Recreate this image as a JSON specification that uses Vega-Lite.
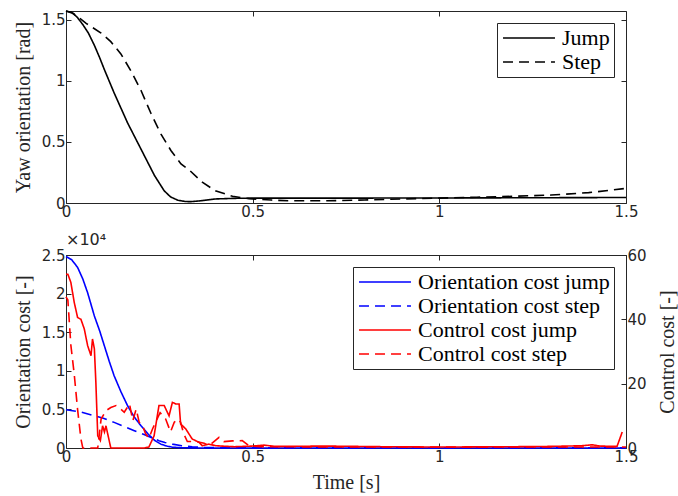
{
  "$schema": "https://vega.github.io/schema/vega-lite/v6.json",
  "padding": {"left": 12, "top": 7, "right": 2, "bottom": 5},
  "autosize": {"type": "pad"},
  "spacing": 52,
  "bounds": "flush",
  "resolve": {"scale": {"strokeDash": "independent", "color": "independent"}, "legend": {"strokeDash": "independent", "color": "independent"}},
  "config": {
    "view": {"stroke": "#262626", "strokeWidth": 1},
    "axis": {"grid": false, "domain": false, "tickSize": -5, "tickColor": "#262626", "labelFont": "DejaVu Sans", "labelFontSize": 15, "labelColor": "#262626", "labelFlush": false, "labelOverlap": false, "titleFont": "Liberation Serif, serif", "titleFontSize": 20, "titleFontWeight": "normal", "titleColor": "#262626", "labelPadding": 6, "titlePadding": 8},
    "legend": {"orient": "top-right", "offset": 12, "title": null, "symbolType": "M-3,0H3", "symbolSize": 300, "symbolOffset": 17, "symbolStrokeWidth": 1.6, "labelFont": "Liberation Serif, serif", "labelFontSize": 22, "labelColor": "black", "labelLimit": 400, "labelOffset": 22, "strokeColor": "#262626", "fillColor": "white", "padding": 4, "rowPadding": 2}
  },
  "datasets": {
    "yaw": [
      {"t": 0, "yaw": 1.571, "series": "Jump"},
      {"t": 0.015, "yaw": 1.56, "series": "Jump"},
      {"t": 0.03, "yaw": 1.52, "series": "Jump"},
      {"t": 0.045, "yaw": 1.46, "series": "Jump"},
      {"t": 0.06, "yaw": 1.39, "series": "Jump"},
      {"t": 0.076, "yaw": 1.29, "series": "Jump"},
      {"t": 0.09, "yaw": 1.19, "series": "Jump"},
      {"t": 0.103, "yaw": 1.09, "series": "Jump"},
      {"t": 0.129, "yaw": 0.9, "series": "Jump"},
      {"t": 0.165, "yaw": 0.655, "series": "Jump"},
      {"t": 0.201, "yaw": 0.44, "series": "Jump"},
      {"t": 0.237, "yaw": 0.225, "series": "Jump"},
      {"t": 0.263, "yaw": 0.1, "series": "Jump"},
      {"t": 0.28, "yaw": 0.05, "series": "Jump"},
      {"t": 0.3, "yaw": 0.022, "series": "Jump"},
      {"t": 0.32, "yaw": 0.012, "series": "Jump"},
      {"t": 0.335, "yaw": 0.011, "series": "Jump"},
      {"t": 0.36, "yaw": 0.018, "series": "Jump"},
      {"t": 0.4, "yaw": 0.033, "series": "Jump"},
      {"t": 0.45, "yaw": 0.038, "series": "Jump"},
      {"t": 0.5, "yaw": 0.04, "series": "Jump"},
      {"t": 0.75, "yaw": 0.04, "series": "Jump"},
      {"t": 1.0, "yaw": 0.041, "series": "Jump"},
      {"t": 1.25, "yaw": 0.043, "series": "Jump"},
      {"t": 1.5, "yaw": 0.045, "series": "Jump"},
      {"t": 0, "yaw": 1.571, "series": "Step"},
      {"t": 0.02, "yaw": 1.55, "series": "Step"},
      {"t": 0.054, "yaw": 1.47, "series": "Step"},
      {"t": 0.094, "yaw": 1.39, "series": "Step"},
      {"t": 0.12, "yaw": 1.32, "series": "Step"},
      {"t": 0.147, "yaw": 1.22, "series": "Step"},
      {"t": 0.174, "yaw": 1.08, "series": "Step"},
      {"t": 0.201, "yaw": 0.92, "series": "Step"},
      {"t": 0.228, "yaw": 0.73, "series": "Step"},
      {"t": 0.254, "yaw": 0.565, "series": "Step"},
      {"t": 0.281, "yaw": 0.43, "series": "Step"},
      {"t": 0.308, "yaw": 0.32, "series": "Step"},
      {"t": 0.33, "yaw": 0.27, "series": "Step"},
      {"t": 0.365, "yaw": 0.17, "series": "Step"},
      {"t": 0.4, "yaw": 0.1, "series": "Step"},
      {"t": 0.446, "yaw": 0.055, "series": "Step"},
      {"t": 0.49, "yaw": 0.035, "series": "Step"},
      {"t": 0.55, "yaw": 0.024, "series": "Step"},
      {"t": 0.6, "yaw": 0.018, "series": "Step"},
      {"t": 0.7, "yaw": 0.018, "series": "Step"},
      {"t": 0.8, "yaw": 0.025, "series": "Step"},
      {"t": 0.9, "yaw": 0.033, "series": "Step"},
      {"t": 1.0, "yaw": 0.04, "series": "Step"},
      {"t": 1.1, "yaw": 0.047, "series": "Step"},
      {"t": 1.2, "yaw": 0.055, "series": "Step"},
      {"t": 1.3, "yaw": 0.065, "series": "Step"},
      {"t": 1.4, "yaw": 0.085, "series": "Step"},
      {"t": 1.46, "yaw": 0.105, "series": "Step"},
      {"t": 1.5, "yaw": 0.12, "series": "Step"}
    ],
    "orient": [
      {"t": 0, "value": 24800, "series": "Orientation cost jump"},
      {"t": 0.015, "value": 24400, "series": "Orientation cost jump"},
      {"t": 0.031, "value": 23400, "series": "Orientation cost jump"},
      {"t": 0.045, "value": 21900, "series": "Orientation cost jump"},
      {"t": 0.058, "value": 20100, "series": "Orientation cost jump"},
      {"t": 0.076, "value": 17100, "series": "Orientation cost jump"},
      {"t": 0.09, "value": 15200, "series": "Orientation cost jump"},
      {"t": 0.103, "value": 13200, "series": "Orientation cost jump"},
      {"t": 0.116, "value": 11200, "series": "Orientation cost jump"},
      {"t": 0.129, "value": 9350, "series": "Orientation cost jump"},
      {"t": 0.147, "value": 7300, "series": "Orientation cost jump"},
      {"t": 0.165, "value": 5470, "series": "Orientation cost jump"},
      {"t": 0.183, "value": 4000, "series": "Orientation cost jump"},
      {"t": 0.201, "value": 2880, "series": "Orientation cost jump"},
      {"t": 0.22, "value": 1800, "series": "Orientation cost jump"},
      {"t": 0.237, "value": 1000, "series": "Orientation cost jump"},
      {"t": 0.254, "value": 500, "series": "Orientation cost jump"},
      {"t": 0.27, "value": 250, "series": "Orientation cost jump"},
      {"t": 0.285, "value": 100, "series": "Orientation cost jump"},
      {"t": 0.31, "value": 30, "series": "Orientation cost jump"},
      {"t": 0.35, "value": 10, "series": "Orientation cost jump"},
      {"t": 0.4, "value": 5, "series": "Orientation cost jump"},
      {"t": 0.8, "value": 2, "series": "Orientation cost jump"},
      {"t": 1.2, "value": 2, "series": "Orientation cost jump"},
      {"t": 1.5, "value": 2, "series": "Orientation cost jump"},
      {"t": 0, "value": 4950, "series": "Orientation cost step"},
      {"t": 0.04, "value": 4650, "series": "Orientation cost step"},
      {"t": 0.076, "value": 4180, "series": "Orientation cost step"},
      {"t": 0.1, "value": 3850, "series": "Orientation cost step"},
      {"t": 0.129, "value": 3320, "series": "Orientation cost step"},
      {"t": 0.155, "value": 2800, "series": "Orientation cost step"},
      {"t": 0.183, "value": 2240, "series": "Orientation cost step"},
      {"t": 0.209, "value": 1750, "series": "Orientation cost step"},
      {"t": 0.228, "value": 1350, "series": "Orientation cost step"},
      {"t": 0.249, "value": 950, "series": "Orientation cost step"},
      {"t": 0.265, "value": 720, "series": "Orientation cost step"},
      {"t": 0.285, "value": 500, "series": "Orientation cost step"},
      {"t": 0.31, "value": 300, "series": "Orientation cost step"},
      {"t": 0.338, "value": 170, "series": "Orientation cost step"},
      {"t": 0.37, "value": 90, "series": "Orientation cost step"},
      {"t": 0.4, "value": 50, "series": "Orientation cost step"},
      {"t": 0.45, "value": 20, "series": "Orientation cost step"},
      {"t": 0.5, "value": 10, "series": "Orientation cost step"},
      {"t": 1.0, "value": 10, "series": "Orientation cost step"},
      {"t": 1.5, "value": 25, "series": "Orientation cost step"}
    ],
    "control": [
      {"t": 0, "value": 54, "series": "Control cost jump"},
      {"t": 0.005, "value": 54, "series": "Control cost jump"},
      {"t": 0.013, "value": 51.5, "series": "Control cost jump"},
      {"t": 0.022, "value": 45.3, "series": "Control cost jump"},
      {"t": 0.031, "value": 40.6, "series": "Control cost jump"},
      {"t": 0.04, "value": 40, "series": "Control cost jump"},
      {"t": 0.049, "value": 37, "series": "Control cost jump"},
      {"t": 0.058, "value": 31.8, "series": "Control cost jump"},
      {"t": 0.067, "value": 28.7, "series": "Control cost jump"},
      {"t": 0.071, "value": 33.9, "series": "Control cost jump"},
      {"t": 0.076, "value": 30.8, "series": "Control cost jump"},
      {"t": 0.08, "value": 20.4, "series": "Control cost jump"},
      {"t": 0.085, "value": 3.8, "series": "Control cost jump"},
      {"t": 0.092, "value": 2.3, "series": "Control cost jump"},
      {"t": 0.098, "value": 6.9, "series": "Control cost jump"},
      {"t": 0.103, "value": 5, "series": "Control cost jump"},
      {"t": 0.107, "value": 6.9, "series": "Control cost jump"},
      {"t": 0.12, "value": 0, "series": "Control cost jump"},
      {"t": 0.21, "value": 0, "series": "Control cost jump"},
      {"t": 0.222, "value": 0.3, "series": "Control cost jump"},
      {"t": 0.236, "value": 3.8, "series": "Control cost jump"},
      {"t": 0.249, "value": 13.2, "series": "Control cost jump"},
      {"t": 0.263, "value": 13.2, "series": "Control cost jump"},
      {"t": 0.276, "value": 10, "series": "Control cost jump"},
      {"t": 0.285, "value": 14.2, "series": "Control cost jump"},
      {"t": 0.294, "value": 13.7, "series": "Control cost jump"},
      {"t": 0.303, "value": 13.7, "series": "Control cost jump"},
      {"t": 0.307, "value": 7.5, "series": "Control cost jump"},
      {"t": 0.321, "value": 5.9, "series": "Control cost jump"},
      {"t": 0.338, "value": 2.8, "series": "Control cost jump"},
      {"t": 0.356, "value": 1.8, "series": "Control cost jump"},
      {"t": 0.365, "value": 0.7, "series": "Control cost jump"},
      {"t": 0.383, "value": 1.2, "series": "Control cost jump"},
      {"t": 0.401, "value": 0.7, "series": "Control cost jump"},
      {"t": 0.45, "value": 0.4, "series": "Control cost jump"},
      {"t": 0.5, "value": 0.6, "series": "Control cost jump"},
      {"t": 0.53, "value": 0.9, "series": "Control cost jump"},
      {"t": 0.56, "value": 0.5, "series": "Control cost jump"},
      {"t": 0.7, "value": 0.6, "series": "Control cost jump"},
      {"t": 0.85, "value": 0.4, "series": "Control cost jump"},
      {"t": 1.0, "value": 0.3, "series": "Control cost jump"},
      {"t": 1.2, "value": 0.4, "series": "Control cost jump"},
      {"t": 1.3, "value": 0.5, "series": "Control cost jump"},
      {"t": 1.38, "value": 0.7, "series": "Control cost jump"},
      {"t": 1.41, "value": 1.0, "series": "Control cost jump"},
      {"t": 1.43, "value": 0.6, "series": "Control cost jump"},
      {"t": 1.476, "value": 0.5, "series": "Control cost jump"},
      {"t": 1.49, "value": 5.0, "series": "Control cost jump"},
      {"t": 0, "value": 47, "series": "Control cost step"},
      {"t": 0.005, "value": 46, "series": "Control cost step"},
      {"t": 0.013, "value": 32, "series": "Control cost step"},
      {"t": 0.022, "value": 23, "series": "Control cost step"},
      {"t": 0.031, "value": 12, "series": "Control cost step"},
      {"t": 0.04, "value": 2.8, "series": "Control cost step"},
      {"t": 0.045, "value": 0, "series": "Control cost step"},
      {"t": 0.085, "value": 0, "series": "Control cost step"},
      {"t": 0.094, "value": 9, "series": "Control cost step"},
      {"t": 0.107, "value": 11.6, "series": "Control cost step"},
      {"t": 0.12, "value": 12.6, "series": "Control cost step"},
      {"t": 0.134, "value": 13.2, "series": "Control cost step"},
      {"t": 0.147, "value": 12.1, "series": "Control cost step"},
      {"t": 0.156, "value": 11.1, "series": "Control cost step"},
      {"t": 0.17, "value": 13.7, "series": "Control cost step"},
      {"t": 0.179, "value": 8.5, "series": "Control cost step"},
      {"t": 0.188, "value": 12.1, "series": "Control cost step"},
      {"t": 0.196, "value": 8, "series": "Control cost step"},
      {"t": 0.205, "value": 7, "series": "Control cost step"},
      {"t": 0.213, "value": 4.5, "series": "Control cost step"},
      {"t": 0.222, "value": 3, "series": "Control cost step"},
      {"t": 0.232, "value": 6, "series": "Control cost step"},
      {"t": 0.24, "value": 8, "series": "Control cost step"},
      {"t": 0.252, "value": 11, "series": "Control cost step"},
      {"t": 0.267, "value": 9, "series": "Control cost step"},
      {"t": 0.28, "value": 5, "series": "Control cost step"},
      {"t": 0.29, "value": 8, "series": "Control cost step"},
      {"t": 0.3, "value": 9, "series": "Control cost step"},
      {"t": 0.307, "value": 8, "series": "Control cost step"},
      {"t": 0.315, "value": 4.5, "series": "Control cost step"},
      {"t": 0.325, "value": 2, "series": "Control cost step"},
      {"t": 0.35, "value": 2, "series": "Control cost step"},
      {"t": 0.37, "value": 1.5, "series": "Control cost step"},
      {"t": 0.383, "value": 0.7, "series": "Control cost step"},
      {"t": 0.41, "value": 3.3, "series": "Control cost step"},
      {"t": 0.423, "value": 2, "series": "Control cost step"},
      {"t": 0.446, "value": 2.2, "series": "Control cost step"},
      {"t": 0.472, "value": 2.3, "series": "Control cost step"},
      {"t": 0.49, "value": 0.7, "series": "Control cost step"},
      {"t": 0.52, "value": 0.4, "series": "Control cost step"},
      {"t": 0.8, "value": 0.3, "series": "Control cost step"},
      {"t": 1.2, "value": 0.3, "series": "Control cost step"},
      {"t": 1.5, "value": 0.3, "series": "Control cost step"}
    ]
  },
  "vconcat": [
    {
      "width": 560,
      "height": 192,
      "layer": [
        {
          "data": {"name": "yaw"},
          "mark": {"type": "line", "strokeWidth": 1.6, "color": "black"},
          "encoding": {
            "x": {"field": "t", "type": "quantitative", "scale": {"domain": [0, 1.5], "nice": false, "zero": false}, "axis": {"values": [0, 0.5, 1, 1.5], "format": "~g", "title": null}},
            "y": {"field": "yaw", "type": "quantitative", "scale": {"domain": [0, 1.5708], "nice": false}, "axis": {"values": [0, 0.5, 1, 1.5], "format": "~g", "title": "Yaw orientation [rad]"}},
            "strokeDash": {"field": "series", "type": "nominal", "scale": {"domain": ["Jump", "Step"], "range": [[1, 0], [10, 6]]}, "legend": {"symbolStrokeColor": "black"}}
          }
        },
        {
          "data": {"name": "yaw"},
          "mark": {"type": "point", "opacity": 0},
          "encoding": {
            "x": {"field": "t", "type": "quantitative", "scale": {"domain": [0, 1.5], "nice": false, "zero": false}, "axis": {"orient": "top", "values": [0, 0.5, 1, 1.5], "labels": false, "title": null}},
            "y": {"field": "yaw", "type": "quantitative", "scale": {"domain": [0, 1.5708], "nice": false}, "axis": {"orient": "right", "values": [0, 0.5, 1, 1.5], "labels": false, "title": null}}
          }
        }
      ],
      "resolve": {"axis": {"x": "independent", "y": "independent"}}
    },
    {
      "width": 560,
      "height": 193,
      "title": {"text": "×10⁴", "anchor": "start", "frame": "group", "font": "DejaVu Sans", "fontSize": 16, "fontWeight": "normal", "color": "#262626", "offset": 0},
      "layer": [
        {
          "data": {"name": "orient"},
          "mark": {"type": "line", "strokeWidth": 1.6},
          "encoding": {
            "x": {"field": "t", "type": "quantitative", "scale": {"domain": [0, 1.5], "nice": false, "zero": false}, "axis": {"values": [0, 0.5, 1, 1.5], "format": "~g", "title": "Time [s]"}},
            "y": {"field": "value", "type": "quantitative", "scale": {"domain": [0, 25000], "nice": false}, "axis": {"values": [0, 5000, 10000, 15000, 20000, 25000], "labelExpr": "format(datum.value / 10000, '~g')", "title": "Orientation cost [-]"}},
            "color": {"field": "series", "type": "nominal", "scale": {"domain": ["Orientation cost jump", "Orientation cost step", "Control cost jump", "Control cost step"], "range": ["#0000ff", "#0000ff", "#ff0000", "#ff0000"]}},
            "strokeDash": {"field": "series", "type": "nominal", "scale": {"domain": ["Orientation cost jump", "Orientation cost step", "Control cost jump", "Control cost step"], "range": [[1, 0], [10, 6], [1, 0], [10, 6]]}}
          }
        },
        {
          "data": {"name": "control"},
          "mark": {"type": "line", "strokeWidth": 1.6},
          "encoding": {
            "x": {"field": "t", "type": "quantitative", "scale": {"domain": [0, 1.5], "nice": false, "zero": false}, "axis": {"orient": "top", "values": [0, 0.5, 1, 1.5], "labels": false, "title": null}},
            "y": {"field": "value", "type": "quantitative", "scale": {"domain": [0, 60], "nice": false}, "axis": {"orient": "right", "values": [0, 20, 40, 60], "title": "Control cost [-]", "titleAngle": 270, "titleBaseline": "top", "titlePadding": 11}},
            "color": {"field": "series", "type": "nominal", "scale": {"domain": ["Orientation cost jump", "Orientation cost step", "Control cost jump", "Control cost step"], "range": ["#0000ff", "#0000ff", "#ff0000", "#ff0000"]}},
            "strokeDash": {"field": "series", "type": "nominal", "scale": {"domain": ["Orientation cost jump", "Orientation cost step", "Control cost jump", "Control cost step"], "range": [[1, 0], [10, 6], [1, 0], [10, 6]]}}
          }
        }
      ],
      "resolve": {"scale": {"y": "independent"}, "axis": {"x": "independent"}}
    }
  ]
}
